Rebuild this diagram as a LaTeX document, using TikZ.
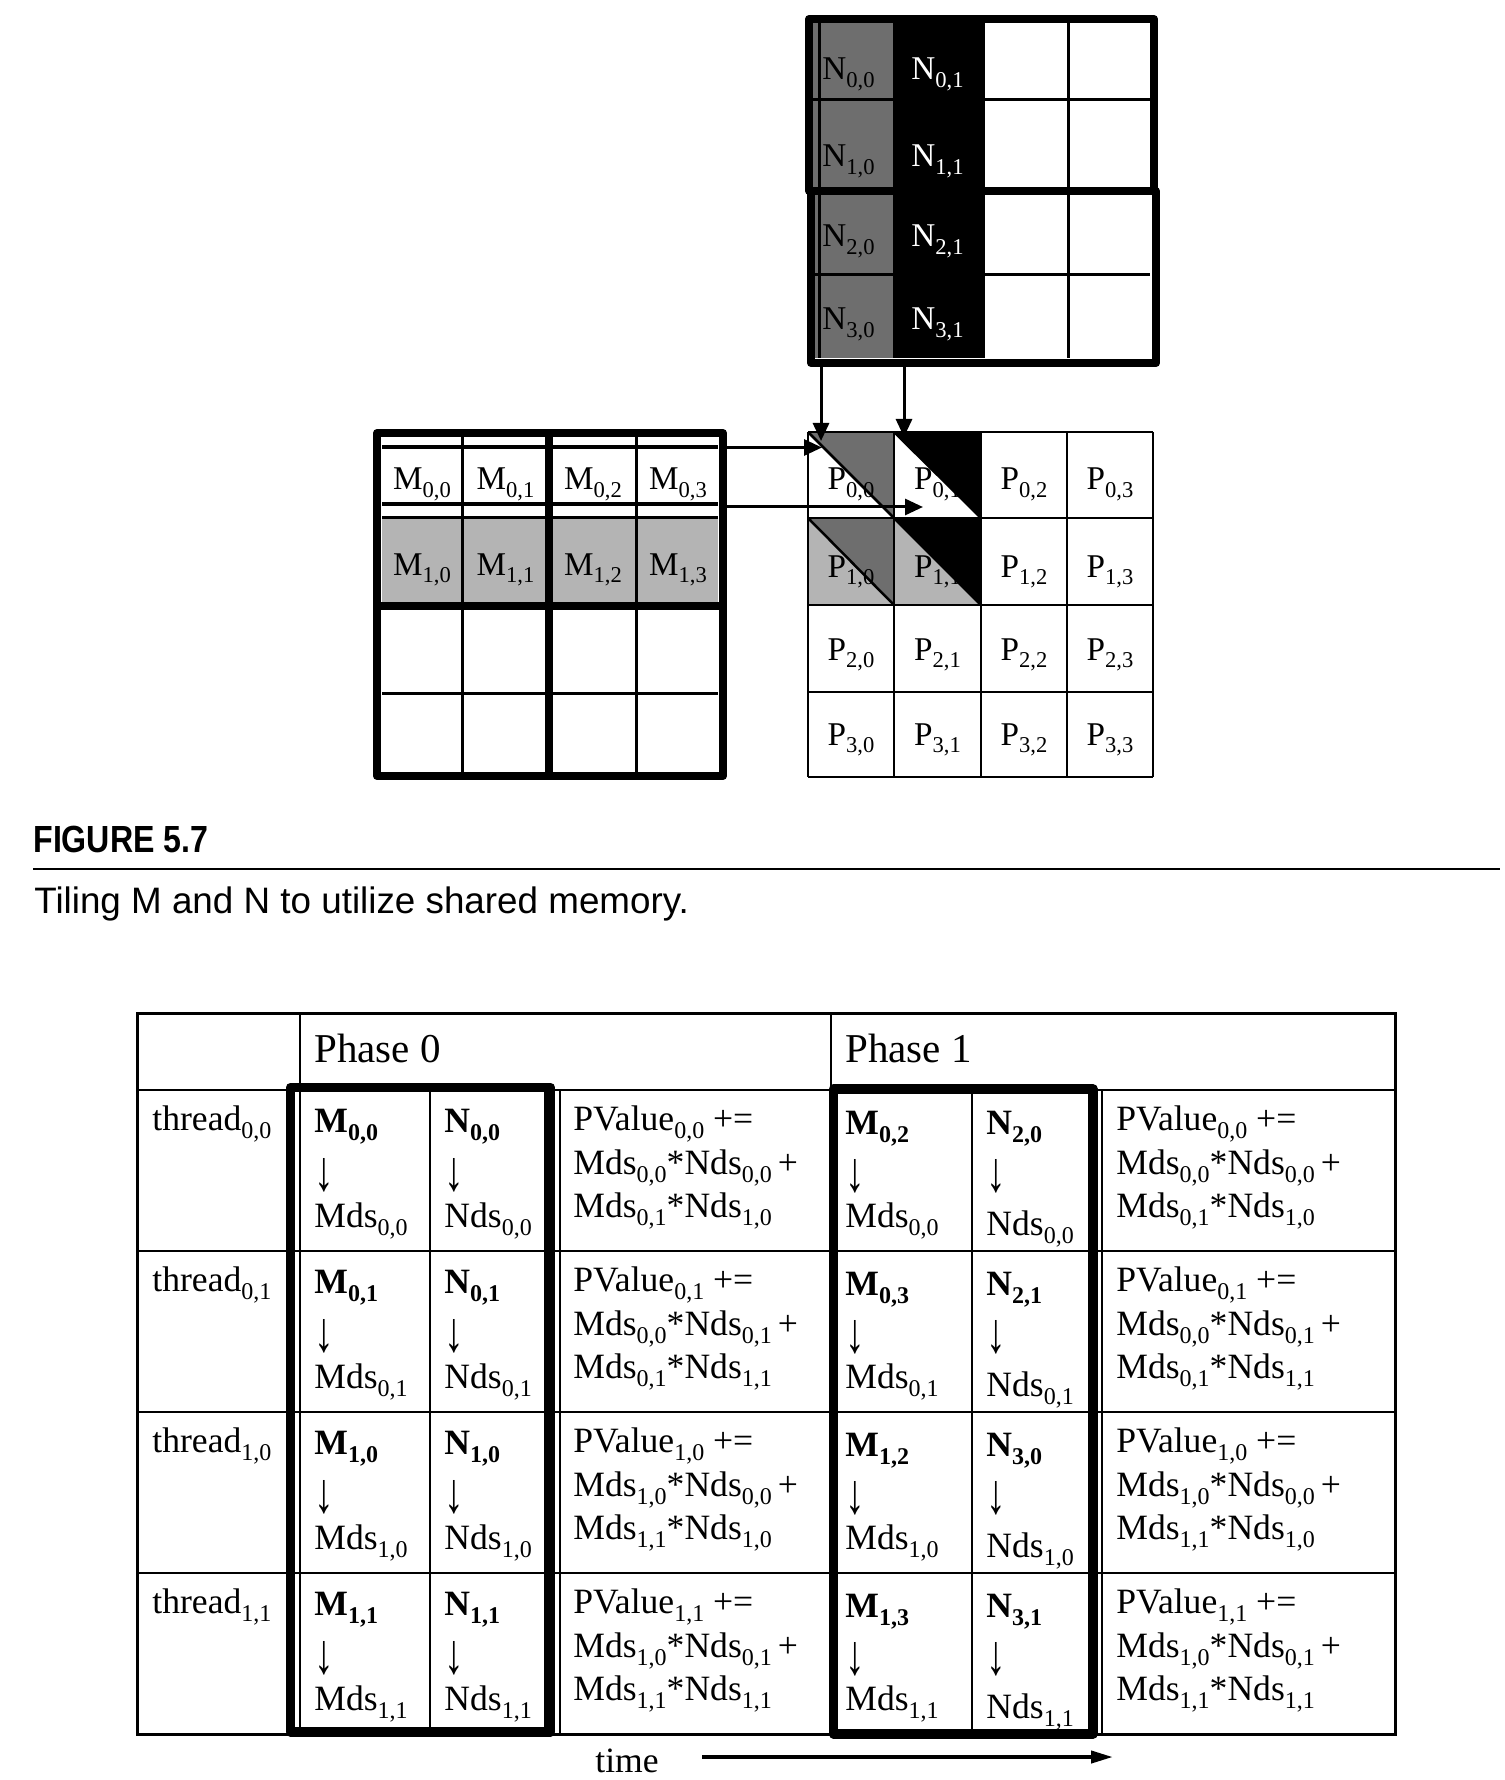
\documentclass[tikz,border=0pt]{standalone}
\usepackage{fontspec}
\setmainfont{Liberation Serif}
\newfontfamily\capfont{Liberation Sans}
\newfontfamily\figfont[FakeStretch=0.85]{Liberation Sans}
\usetikzlibrary{arrows.meta}
\definecolor{dgray}{RGB}{110,110,110}
\definecolor{lgray}{RGB}{180,180,180}
\newcommand\sbs[1]{\raisebox{-4pt}{\fontsize{12}{12}\selectfont #1}}
\newcommand\msb[1]{\raisebox{-3.8pt}{\fontsize{11.3}{11.3}\selectfont #1}}
\newcommand\dnar{\scalebox{1.1}[1.6]{↓}}
\begin{document}
\begin{tikzpicture}[x=0.5pt,y=-0.5pt,
  tl/.style={inner sep=0pt, anchor=base west, font=\fontsize{17.8}{21}\selectfont},
  ml/.style={inner sep=0pt, anchor=base, font=\fontsize{16.6}{19}\selectfont},
  mlw/.style={inner sep=0pt, anchor=base west, font=\fontsize{16.6}{19}\selectfont},
  gridln/.style={line width=1.5pt},
  tabln/.style={line width=1pt},
  heavybox/.style={line width=4pt, line join=round},
  phasebox/.style={line width=4.75pt, line join=round},
  conn/.style={line width=1.5pt, -{Triangle[length=9pt,width=8pt]}},
  timearr/.style={line width=2pt, -{Triangle[length=11pt,width=6pt]}}]
\useasboundingbox (0,0) rectangle (1504,1780);
\fill[white] (0,0) rectangle (1504,1780);

% ---------------- N matrix ----------------
\fill[dgray] (813,23) rectangle (893,358);
\fill[black] (893,23) rectangle (985,358);
\draw[gridln] (819,23) -- (819,358);
\foreach \y in {100,275} \draw[gridln] (813,\y) -- (1150,\y);
\draw[gridln] (1068,23) -- (1068,358);
\draw[heavybox] (809,19) rectangle (1154,191);
\draw[heavybox] (811,191) rectangle (1156,363);
\foreach \i/\b in {0/80,1/167,2/247,3/330} {
  \node[mlw] (n\i0) at (822,\b) {N\msb{\i,0}};
  \node[mlw, text=white] (n\i1) at (911,\b) {N\msb{\i,1}};
}

% ---------------- M matrix ----------------
\fill[lgray] (382,518) rectangle (718,602);
\draw[line width=2pt] (382,447.5) -- (718,447.5);
\draw[line width=1.75pt] (382,504) -- (718,504);
\draw[line width=1.5pt] (382,517.5) -- (718,517.5);
\draw[gridln] (382,693.5) -- (718,693.5);
\foreach \x in {462.5,636.5} \draw[gridln] (\x,437) -- (\x,772);
\draw[heavybox] (549,433) -- (549,776);
\draw[heavybox] (377,606) -- (723,606);
\draw[heavybox] (377,433) rectangle (723,776);
\foreach \j/\cx in {0/422,1/505.5,2/593,3/678} {
  \node[ml] (m0\j) at (\cx,490) {M\msb{0,\j}};
  \node[ml] (m1\j) at (\cx,575) {M\msb{1,\j}};
}

% ---------------- P matrix ----------------
\fill[dgray] (808,432) -- (894,432) -- (894,518) -- cycle;
\fill[black] (894,432) -- (981,432) -- (981,518) -- cycle;
\fill[dgray] (808,518) -- (894,518) -- (894,605) -- cycle;
\fill[lgray] (808,518) -- (808,605) -- (894,605) -- cycle;
\fill[black] (894,518) -- (981,518) -- (981,605) -- cycle;
\fill[lgray] (894,518) -- (894,605) -- (981,605) -- cycle;
\foreach \x in {808,894,981,1067,1153} \draw[line width=1.25pt] (\x,432) -- (\x,777);
\foreach \y in {432,518,605,692,777} \draw[line width=1.25pt] (808,\y) -- (1153,\y);
\draw[line width=1.25pt] (808,432) -- (981,605);
\draw[line width=1.25pt] (894,432) -- (981,518);
\draw[line width=1.25pt] (808,518) -- (894,605);
\foreach \i/\b in {0/490,1/577,2/660,3/745} {
  \foreach \j/\cx in {0/851,1/937.5,2/1024,3/1110} {
    \node[ml] (p\i\j) at (\cx,\b) {P\msb{\i,\j}};
  }
}

% ---------------- connectors ----------------
\coordinate (nsa) at (821,367);
\coordinate (nsb) at (904,367);
\coordinate (pta) at (821,441);
\coordinate (ptb) at (904,437);
\coordinate (msa) at (727,447.5);
\coordinate (msb) at (727,507);
\coordinate (pha) at (822,447.5);
\coordinate (phb) at (923,507);
\draw[conn] (nsa) -- (pta);
\draw[conn] (nsb) -- (ptb);
\draw[conn] (msa) -- (pha);
\draw[conn] (msb) -- (phb);

% ---------------- caption ----------------
\node[inner sep=0pt, anchor=base west, font=\figfont\bfseries\fontsize{18.9}{20}\selectfont] (figlab) at (33,852) {FIGURE 5.7};
\coordinate (rulea) at (33,869);
\coordinate (ruleb) at (1500,869);
\draw[line width=1pt] (rulea) -- (ruleb);
\node[inner sep=0pt, anchor=base west, font=\capfont\fontsize{18.4}{20}\selectfont] (captxt) at (34,913) {Tiling M and N to utilize shared memory.};

% ---------------- table ----------------
\foreach \y in {1089.5,1251,1412,1573} \draw[tabln] (137,\y) -- (1395,\y);
\draw[tabln] (300,1013) -- (300,1734);
\draw[tabln] (831,1013) -- (831,1734);
\foreach \x in {430,545,560,972,1102} \draw[tabln] (\x,1089.5) -- (\x,1734);
\draw[line width=1.5pt] (137,1013) rectangle (1395,1734);
\draw[phasebox] (290.5,1087.5) rectangle (550.5,1732);
\draw[phasebox] (833.5,1089) rectangle (1093,1734);

\node[tl, font=\fontsize{20.5}{24}\selectfont] (ph0) at (314,1062) {Phase 0};
\node[tl, font=\fontsize{20.5}{24}\selectfont] (ph1) at (845,1062) {Phase 1};

\foreach \r/\i/\j/\T in {0/0/0/1090,1/0/1/1251,2/1/0/1412,3/1/1/1573} {
  \pgfmathtruncatemacro\mj{\j+2}
  \pgfmathtruncatemacro\ni{\i+2}
  \node[tl] (thr\r) at (152,\T+40) {thread\sbs{\i,\j}};
  % phase 0
  \node[tl] (am\r) at (314,\T+42) {\bfseries M\sbs{\i,\j}};
  \node[tl] (aar\r) at (314,\T+100) {\dnar};
  \node[tl] (amd\r) at (314,\T+137) {Mds\sbs{\i,\j}};
  \node[tl] (an\r) at (444,\T+42) {\bfseries N\sbs{\i,\j}};
  \node[tl] (anr\r) at (444,\T+100) {\dnar};
  \node[tl] (and\r) at (444,\T+137) {Nds\sbs{\i,\j}};
  \node[tl] (apa\r) at (573,\T+40) {PValue\sbs{\i,\j} +=};
  \node[tl] (apb\r) at (573,\T+84) {Mds\sbs{\i,0}*Nds\sbs{0,\j}\,+};
  \node[tl] (apc\r) at (573,\T+127) {Mds\sbs{\i,1}*Nds\sbs{1,\j}};
  % phase 1
  \node[tl] (bm\r) at (845,\T+44) {\bfseries M\sbs{\i,\mj}};
  \node[tl] (bar\r) at (845,\T+101) {\dnar};
  \node[tl] (bmd\r) at (845,\T+137) {Mds\sbs{\i,\j}};
  \node[tl] (bn\r) at (986,\T+44) {\bfseries N\sbs{\ni,\j}};
  \node[tl] (bnr\r) at (986,\T+101) {\dnar};
  \node[tl] (bnd\r) at (986,\T+145) {Nds\sbs{\i,\j}};
  \node[tl] (bpa\r) at (1116,\T+40) {PValue\sbs{\i,\j} +=};
  \node[tl] (bpb\r) at (1116,\T+84) {Mds\sbs{\i,0}*Nds\sbs{0,\j}\,+};
  \node[tl] (bpc\r) at (1116,\T+127) {Mds\sbs{\i,1}*Nds\sbs{1,\j}};
}

\node[tl] (time) at (595,1772) {time};
\coordinate (tstart) at (702,1757);
\coordinate (tend) at (1113,1757);
\draw[timearr] (tstart) -- (tend);
\end{tikzpicture}
\end{document}
